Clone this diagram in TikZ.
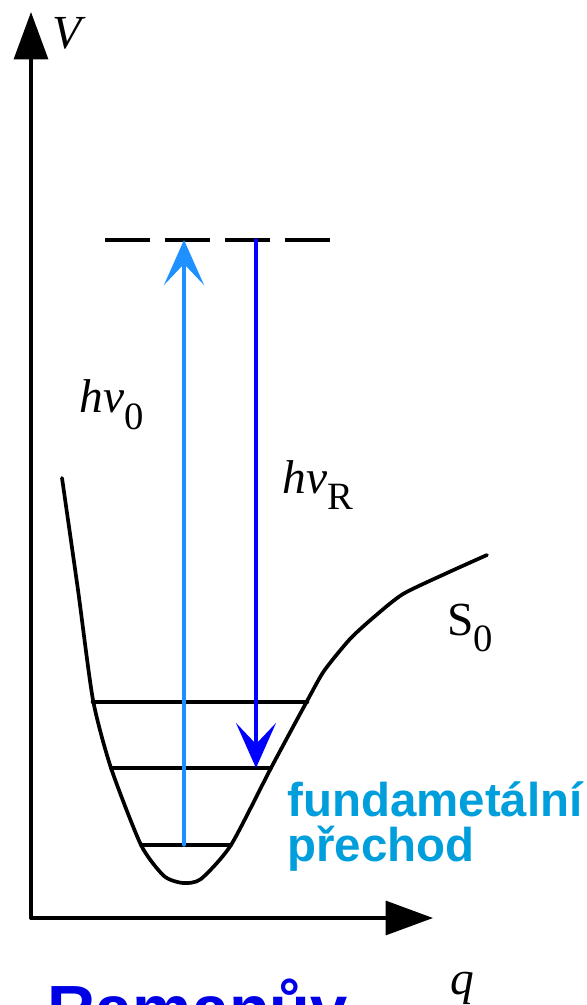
\documentclass[tikz,border=0pt]{standalone}
\usepackage{fontspec}
\setmainfont{Liberation Serif}
\newfontfamily\arialfont{Liberation Sans}
\usetikzlibrary{arrows.meta}
\definecolor{photon}{RGB}{30,144,255}
\definecolor{raman}{RGB}{0,0,255}
\definecolor{notecol}{RGB}{0,158,219}
\definecolor{titlecol}{RGB}{0,0,230}
\begin{document}
\begin{tikzpicture}[x=0.02cm, y=0.02cm, line join=round, line cap=round,
	axis/.style={line width=2pt, -{Triangle[length=0.95cm,width=0.68cm]}},
	level/.style={line width=2.1pt},
	photonarrow/.style={line width=1.9pt, -{Stealth[length=0.9cm,width=0.8cm,inset=0.42cm]}},
	mathlabel/.style={font=\fontsize{27}{30}\selectfont, inner sep=0pt},
	note/.style={font=\arialfont\bfseries\fontsize{27}{30}\selectfont, text=notecol, inner sep=0pt, anchor=base west}]
	\useasboundingbox (0,0) rectangle (586,1005);
	\def \xmax{433}
	\def \ymax{993}
	\def \virt{765}
	% axes
	\coordinate (O) at (31,87);
	\coordinate (Vend) at (31,\ymax);
	\coordinate (qend) at (\xmax,87);
	\draw[axis] (O)--(Vend);
	\draw[axis] (O)--(qend);
	\node[mathlabel] (V) at (69,972) {\textit{V}};
	\node[mathlabel] (q) at (462,17) {\textit{q}};
	% potential curve S0
	\draw[level] plot[smooth, tension=0.4] coordinates {(62,527) (78,415) (93,305) (111,237) (141,160)
		(164,129) (183,122) (201,126) (231,160) (271,237) (306,302) (324,334) (350,366) (374,388)
		(403,411) (447,432) (487,450)};
	\node[mathlabel] (S0) at (470,377) {S\raisebox{-0.35em}{\fontsize{22}{22}\selectfont 0}};
	% vibrational levels
	\draw[level, line width=2.6pt] (93,303)--(307,303);
	\draw[level] (111,237)--(271,237);
	\draw[level] (141,160)--(231,160);
	% virtual level
	\draw[line width=2.4pt, line cap=butt, dash pattern=on 0.9cm off 0.3cm] (105,\virt)--(330,\virt);
	% transitions
	\coordinate (up0) at (184,160);
	\coordinate (up1) at (184,\virt);
	\coordinate (dn0) at (256,\virt);
	\coordinate (dn1) at (256,237);
	\draw[photonarrow, photon] (up0)--(up1);
	\draw[photonarrow, raman] (dn0)--(dn1);
	\node[mathlabel] (hv0) at (112,600) {\textit{hν}\raisebox{-0.35em}{\fontsize{22}{22}\selectfont 0}};
	\node[mathlabel] (hvR) at (318,520) {\textit{hν}\raisebox{-0.35em}{\fontsize{22}{22}\selectfont R}};
	\node[note] (fund) at (287,188) {fundametální};
	\node[note] (prech) at (287,143) {přechod};
	\node[font=\arialfont\bfseries\fontsize{38}{40}\selectfont, text=titlecol, inner sep=0pt, anchor=base west] (title) at (47,-28) {Ramanův};
\end{tikzpicture}
\end{document}
